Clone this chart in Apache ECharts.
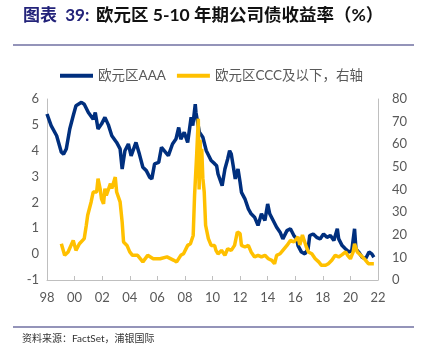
<!DOCTYPE html>
<html><head><meta charset="utf-8">
<script src="https://cdn.jsdelivr.net/npm/echarts@6/dist/echarts.min.js"></script>
<style>html,body{margin:0;padding:0;background:#fff}#c{width:428px;height:356px}</style>
</head><body><div id="c"></div>
<script>
var aaaYears = [1998.0,1998.3,1998.7,1999.04,1999.2,1999.4,1999.65,1999.9,2000.1,2000.5,2000.7,2001.0,2001.35,2001.5,2001.7,2001.95,2002.2,2002.45,2002.7,2003.05,2003.3,2003.45,2003.65,2003.9,2004.1,2004.2,2004.45,2004.7,2004.95,2005.2,2005.45,2005.6,2005.8,2006.1,2006.3,2006.6,2006.8,2007.1,2007.35,2007.55,2007.7,2007.95,2008.2,2008.45,2008.57,2008.75,2008.8,2009.05,2009.3,2009.55,2009.9,2010.15,2010.3,2010.4,2010.5,2010.7,2010.9,2011.1,2011.24,2011.36,2011.5,2011.65,2011.85,2012.0,2012.1,2012.35,2012.6,2012.8,2013.05,2013.3,2013.55,2013.8,2014.0,2014.15,2014.4,2014.65,2014.9,2015.1,2015.4,2015.65,2015.9,2016.1,2016.2,2016.45,2016.7,2016.93,2017.05,2017.3,2017.55,2017.8,2018.05,2018.3,2018.55,2018.8,2019.05,2019.15,2019.4,2019.65,2019.9,2020.1,2020.3,2020.4,2020.6,2020.85,2021.1,2021.35,2021.55,2021.7];
var aaaValues = [5.42,4.97,4.58,3.94,3.87,4.07,4.84,5.35,5.74,5.87,5.8,5.48,5.22,5.48,4.84,5.03,5.29,5.0,4.58,4.32,4.07,3.29,4.0,4.26,3.8,3.87,4.32,3.87,3.36,3.23,2.97,2.91,3.49,3.55,4.13,3.94,3.81,4.26,4.45,4.9,4.45,4.71,4.32,5.29,4.97,5.8,5.48,4.71,4.52,4.0,3.62,3.5,3.42,3.1,3.04,2.65,3.29,3.68,4.0,3.87,3.42,2.91,3.29,2.78,2.39,2.14,1.75,1.56,1.43,1.11,1.56,1.3,1.94,1.56,1.3,1.04,0.85,0.59,0.91,0.98,0.72,0.59,0.33,0.08,0.01,0.2,0.72,0.78,0.65,0.59,0.78,0.65,0.72,0.53,0.98,0.59,0.33,0.2,0.08,0.14,0.98,0.2,0.08,-0.12,-0.18,0.08,0.01,-0.12];
var cccYears = [1999.04,1999.28,1999.53,1999.9,2000.1,2000.35,2000.7,2000.85,2000.95,2001.2,2001.35,2001.6,2001.7,2001.85,2001.95,2002.1,2002.2,2002.3,2002.6,2002.7,2002.95,2003.05,2003.3,2003.45,2003.55,2003.8,2004.0,2004.2,2004.57,2004.95,2005.3,2005.7,2006.2,2006.7,2007.2,2007.4,2007.7,2007.9,2008.2,2008.4,2008.6,2008.7,2008.85,2008.97,2009.03,2009.1,2009.17,2009.22,2009.3,2009.4,2009.5,2009.7,2009.9,2010.15,2010.25,2010.4,2010.65,2010.9,2011.1,2011.36,2011.6,2011.8,2012.0,2012.1,2012.35,2012.6,2012.8,2013.05,2013.3,2013.55,2013.8,2014.05,2014.3,2014.5,2014.65,2014.9,2015.1,2015.4,2015.65,2015.9,2016.2,2016.33,2016.52,2016.8,2016.95,2017.2,2017.45,2017.7,2017.9,2018.2,2018.4,2018.65,2018.9,2019.15,2019.4,2019.65,2019.8,2020.0,2020.2,2020.3,2020.5,2020.75,2021.0,2021.3,2021.5,2021.7];
var cccValues = [16.0,10.9,12.4,17.5,13.1,16.0,18.3,24.2,28.6,34.5,38.9,38.9,44.8,40.4,35.9,33.7,40.4,37.4,42.6,40.4,45.5,38.9,34.5,25.6,16.8,15.3,12.4,10.9,10.9,8.0,10.9,9.4,9.4,10.2,8.7,8.0,10.9,11.6,15.3,16.0,19.7,37.4,55.1,71.3,40.0,62.0,45.0,58.0,45.0,38.9,24.2,18.3,15.3,15.3,13.1,11.5,13.1,10.9,13.8,13.1,15.3,21.2,20.5,15.3,14.6,15.3,12.4,10.2,10.9,10.2,10.9,9.4,8.7,7.2,10.9,11.6,13.1,15.3,17.5,16.8,19.1,15.5,19.9,14.7,12.4,11.6,9.4,8.0,6.5,6.5,7.2,8.7,10.9,10.2,11.2,12.4,10.9,9.4,12.4,16.0,12.4,10.9,9.4,7.2,7.2,7.2];
var xTickLabels = ['98','00','02','04','06','08','10','12','14','16','18','20','22'];
var seriesNames = ['欧元区AAA','欧元区CCC及以下，右轴'];

function pairs(xs, ys){ return xs.map(function(x,i){ return [x, ys[i]]; }); }

var FONT = 'Lato, "Noto Sans CJK SC", sans-serif';
var chart = echarts.init(document.getElementById('c'));
chart.setOption({
  animation: false,
  backgroundColor: '#fff',
  textStyle: { fontFamily: FONT },
  graphic: [
    { type: 'text', left: 23, top: 7, style: {
      text: '{a|图表  39:}  {b|欧元区 5-10 年期公司债收益率（%）}',
      rich: {
        a: { fontSize: 17, fontWeight: 'bold', fill: '#23237A', fontFamily: FONT },
        b: { fontSize: 17.5, fontWeight: 'bold', fill: '#111', fontFamily: FONT }
      } } },
    { type: 'line', shape: { x1: 13, y1: 45, x2: 414, y2: 45 }, style: { stroke: '#7070A2', lineWidth: 1.3 } },
    { type: 'line', shape: { x1: 13, y1: 327, x2: 414, y2: 327 }, style: { stroke: '#7070A2', lineWidth: 1.3 } },
    { type: 'text', left: 22, top: 334, style: { text: '资料来源：FactSet，浦银国际', fontSize: 10, fill: '#333', fontFamily: FONT } }
  ],
  legend: {
    top: 64, left: 55, itemGap: 11, itemWidth: 33, itemHeight: 4, icon: 'rect',
    textStyle: { color: '#595959', fontSize: 13.5, fontFamily: FONT },
    data: seriesNames
  },
  grid: { left: 47, right: 50, top: 99, bottom: 76 },
  xAxis: {
    type: 'value', min: 1998, max: 2022, interval: 2,
    axisLine: { onZero: false, lineStyle: { color: '#BFBFBF' } },
    axisTick: { show: true, inside: true, length: 4, lineStyle: { color: '#BFBFBF' } },
    splitLine: { show: false },
    axisLabel: { color: '#595959', fontSize: 13, margin: 11, fontFamily: FONT,
      formatter: function(v){ return xTickLabels[Math.round((v - 1998) / 2)]; } }
  },
  yAxis: [
    { type: 'value', min: -1, max: 6, interval: 1,
      axisLine: { show: true, lineStyle: { color: '#BFBFBF' } },
      axisTick: { show: false }, splitLine: { show: false },
      axisLabel: { color: '#595959', fontSize: 13, margin: 8, fontFamily: FONT } },
    { type: 'value', min: 0, max: 80, interval: 10, position: 'right',
      axisLine: { show: true, lineStyle: { color: '#BFBFBF' } },
      axisTick: { show: false }, splitLine: { show: false },
      axisLabel: { color: '#595959', fontSize: 13, margin: 14, fontFamily: FONT } }
  ],
  series: [
    { name: seriesNames[0], type: 'line', yAxisIndex: 0, showSymbol: false, symbol: 'none',
      data: pairs(aaaYears, aaaValues), lineStyle: { color: '#002F7E', width: 3.5 }, itemStyle: { color: '#002F7E' }, z: 3 },
    { name: seriesNames[1], type: 'line', yAxisIndex: 1, showSymbol: false, symbol: 'none',
      data: pairs(cccYears, cccValues), lineStyle: { color: '#FFC000', width: 3.5 }, itemStyle: { color: '#FFC000' }, z: 4 }
  ]
});
</script></body></html>
